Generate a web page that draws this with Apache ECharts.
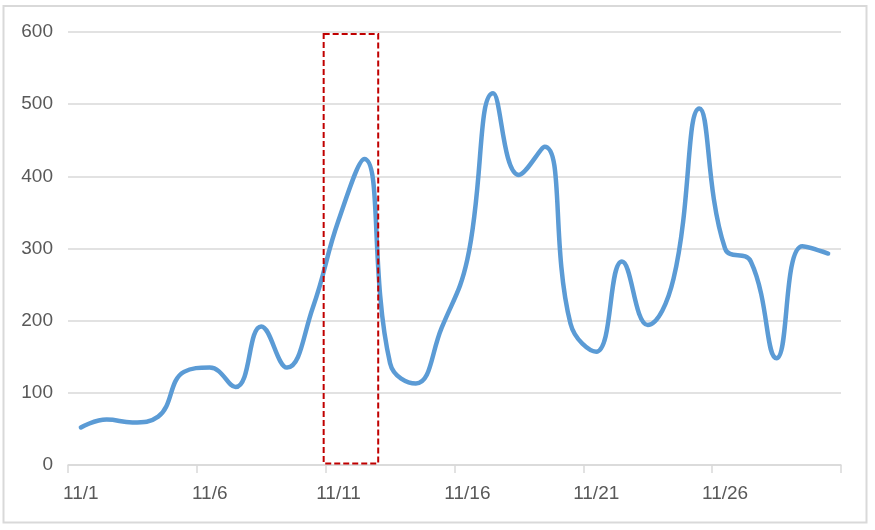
<!DOCTYPE html>
<html>
<head>
<meta charset="utf-8">
<script src="https://cdn.jsdelivr.net/npm/echarts@6/dist/echarts.min.js"></script>
<style>html,body{margin:0;padding:0;background:#fff}#c{width:875px;height:530px}</style>
</head>
<body>
<div id="c"></div>
<script>
const categories = ['11/1','11/2','11/3','11/4','11/5','11/6','11/7','11/8','11/9','11/10',
  '11/11','11/12','11/13','11/14','11/15','11/16','11/17','11/18','11/19','11/20',
  '11/21','11/22','11/23','11/24','11/25','11/26','11/27','11/28','11/29','11/30'];
const values = [52, 63, 59, 67, 129, 135, 108, 192, 135, 218,
  339, 424, 141, 113, 190, 285, 515, 402, 441, 196,
  157, 282, 194, 258, 494, 300, 282, 148, 303, 293];
const highlight = ['11/11', '11/12'];
const yTicks = [0, 600, 100]; // min, max, interval

const chart = echarts.init(document.getElementById('c'), null, {renderer: 'canvas'});
const font = 'Liberation Sans';
chart.setOption({
  backgroundColor: '#ffffff',
  animation: false,
  graphic: [{
    type: 'rect', z: -1,
    shape: {x: 3.5, y: 6, width: 863, height: 516.5},
    style: {fill: 'none', stroke: '#d9d9d9', lineWidth: 2}
  }],
  grid: {left: 68, right: 34, top: 32, bottom: 65},
  xAxis: {
    type: 'category',
    data: categories,
    boundaryGap: true,
    axisLine: {lineStyle: {color: '#d9d9d9', width: 1.5}},
    axisTick: {show: true, interval: 4, length: 8, lineStyle: {color: '#d9d9d9', width: 1.5}},
    axisLabel: {interval: 4, color: '#595959', fontFamily: font, fontSize: 19, margin: 19},
    splitLine: {show: false}
  },
  yAxis: {
    type: 'value',
    min: yTicks[0], max: yTicks[1], interval: yTicks[2],
    axisLine: {show: false},
    axisTick: {show: false},
    axisLabel: {color: '#595959', fontFamily: font, fontSize: 19, margin: 15},
    splitLine: {lineStyle: {color: '#d9d9d9', width: 1.5}}
  },
  series: [{
    type: 'line',
    data: values,
    smooth: 0.45,
    symbol: 'none',
    lineStyle: {color: '#5b9bd5', width: 4.5, cap: 'round', join: 'round'},
    z: 2
  }, {
    type: 'custom',
    z: 3,
    silent: true,
    data: [[categories.indexOf(highlight[0]), categories.indexOf(highlight[1]), 0]],
    encode: {x: [0, 1], y: 2},
    renderItem: function (params, api) {
      const bw = api.size([1, 0])[0];
      const p0 = api.coord([api.value(0), yTicks[1]]);
      const p1 = api.coord([api.value(1), yTicks[0]]);
      const x1 = p0[0] - bw / 2 - 2;
      const x2 = p1[0] + bw / 2 + 1;
      const y1 = p0[1] + 2;
      const y2 = p1[1] - 1.5;
      return {
        type: 'rect',
        shape: {x: x1, y: y1, width: x2 - x1, height: y2 - y1},
        style: {fill: 'none', stroke: '#c00000', lineWidth: 2, lineDash: [6, 3]}
      };
    }
  }]
});
</script>
</body>
</html>
